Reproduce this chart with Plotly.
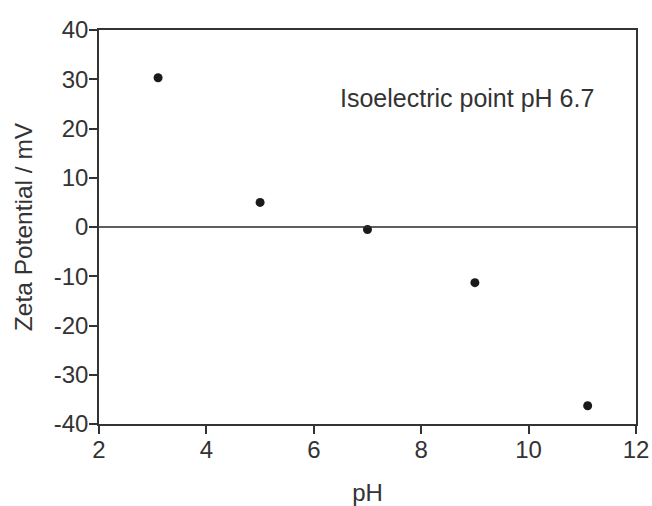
import plotly.graph_objects as go

ph = [3.1, 5.0, 7.0, 9.0, 11.1]
zeta = [30.3, 5.0, -0.5, -11.3, -36.3]
x_ticks = [2, 4, 6, 8, 10, 12]
y_ticks = [40, 30, 20, 10, 0, -10, -20, -30, -40]
y_tick_labels = ["40", "30", "20", "10", "0", "-10", "-20", "-30", "-40"]
annotation_text = "Isoelectric point pH 6.7"

fig = go.Figure()
fig.add_trace(go.Scatter(x=ph, y=zeta, mode="markers",
                         marker=dict(color="#1a1a1a", size=9), showlegend=False))

axis_common = dict(showline=True, linecolor="#333333", linewidth=1.5, mirror=True,
                   ticks="outside", ticklen=8, tickwidth=1.5, tickcolor="#333333",
                   showgrid=False, zeroline=False, automargin=False,
                   tickfont=dict(size=24, color="#333333"))
fig.update_xaxes(range=[2, 12], tickvals=x_ticks, ticklabelstandoff=-5,
                 title=dict(text="pH", font=dict(size=24, color="#333333"), standoff=25),
                 **axis_common)
fig.update_yaxes(range=[-40, 40], tickvals=y_ticks, ticktext=y_tick_labels,
                 ticklabelstandoff=-4,
                 title=dict(text="Zeta Potential / mV", font=dict(size=24.5, color="#333333"), standoff=14),
                 **axis_common)
fig.add_hline(y=0, line=dict(color="#2a2a2a", width=1.3))
fig.add_annotation(x=8.85, y=26.2, text=annotation_text, showarrow=False,
                   font=dict(size=25, color="#333333"))
fig.update_layout(width=652, height=506, margin=dict(l=99, r=16, t=30, b=82),
                  paper_bgcolor="white", plot_bgcolor="white",
                  font=dict(family="Liberation Sans, Arial, sans-serif"))
fig.write_html("out.html", config={"displayModeBar": False},
               post_script="document.body.style.margin='0';")
